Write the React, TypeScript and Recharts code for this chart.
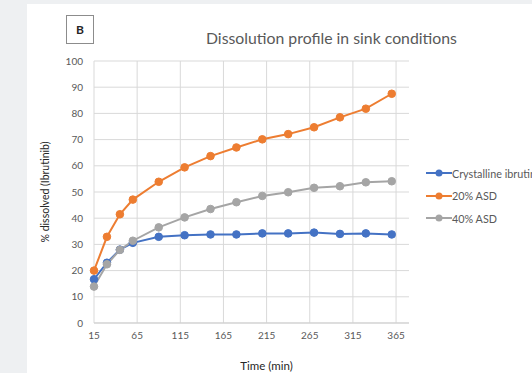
import React from "react";
import {
  LineChart,
  Line,
  XAxis,
  YAxis,
  CartesianGrid,
  Label,
} from "recharts";

// sampling times (min)
const times = [15, 30, 45, 60, 90, 120, 150, 180, 210, 240, 270, 300, 330, 360];

// % dissolved
const crystalline = [16.7, 23.0, 28.0, 30.6, 32.9, 33.5, 33.8, 33.8, 34.2, 34.2, 34.5, 34.0, 34.2, 33.8];
const asd20 = [20.0, 32.9, 41.5, 47.1, 53.9, 59.4, 63.7, 67.0, 70.1, 72.1, 74.7, 78.5, 81.8, 87.5];
const asd40 = [13.9, 22.4, 27.9, 31.4, 36.5, 40.3, 43.5, 46.1, 48.5, 49.9, 51.6, 52.2, 53.7, 54.1];

const xTicks = [15, 65, 115, 165, 215, 265, 315, 365];
const yTicks = [0, 10, 20, 30, 40, 50, 60, 70, 80, 90, 100];

const seriesInfo = [
  { key: "crystalline", name: "Crystalline ibrutinib", color: "#4472C4" },
  { key: "asd20", name: "20% ASD", color: "#ED7D31" },
  { key: "asd40", name: "40% ASD", color: "#A5A5A5" },
];

const data = times.map((t, i) => ({
  time: t,
  crystalline: crystalline[i],
  asd20: asd20[i],
  asd40: asd40[i],
}));

const FONT = "Lato, 'Open Sans', sans-serif";

// legend sits outside the chart so it doesn't eat plot space
function LegendBox() {
  return (
    <div
      style={{
        position: "absolute",
        left: 426,
        top: 167,
        fontFamily: FONT,
        fontSize: 10.8,
        color: "#595959",
      }}
    >
      {seriesInfo.map((s) => (
        <div
          key={s.key}
          style={{ display: "flex", alignItems: "center", height: 12, marginBottom: 10.5, whiteSpace: "nowrap" }}
        >
          <svg width={26} height={10} style={{ flex: "none" }}>
            <line x1={0} y1={5} x2={26} y2={5} stroke={s.color} strokeWidth={2} />
            <circle cx={13} cy={5} r={3.5} fill={s.color} />
          </svg>
          <span>{s.name}</span>
        </div>
      ))}
    </div>
  );
}

export default function App() {
  return (
    <div
      style={{
        position: "absolute",
        left: 0,
        top: 0,
        width: 532,
        height: 373,
        overflow: "hidden",
        background: "#eef0f2",
      }}
    >
      <div
        style={{
          position: "absolute",
          left: 27,
          top: 4,
          width: 505,
          height: 369,
          background: "#fff",
        }}
      />
      <div
        style={{
          position: "absolute",
          left: 66,
          top: 15,
          width: 26,
          height: 27,
          border: "1px solid #8c8c8c",
          fontFamily: FONT,
          fontWeight: 700,
          fontSize: 12,
          color: "#262626",
          display: "flex",
          alignItems: "center",
          justifyContent: "center",
        }}
      >
        B
      </div>
      <div
        style={{
          position: "absolute",
          left: 206,
          top: 28,
          fontFamily: FONT,
          fontSize: 15.8,
          color: "#595959",
          whiteSpace: "nowrap",
        }}
      >
        Dissolution profile in sink conditions
      </div>
      <div style={{ position: "absolute", left: 0, top: 0 }}>
        <LineChart
          width={532}
          height={373}
          data={data}
          margin={{ top: 61, right: 123, bottom: 0, left: 27 }}
        >
          <CartesianGrid stroke="#d9d9d9" strokeWidth={1} verticalValues={xTicks} horizontalValues={yTicks} />
          <XAxis
            dataKey="time"
            type="number"
            domain={[15, 380]}
            ticks={xTicks}
            interval={0}
            tickLine={false}
            tickSize={0}
            tickMargin={9}
            axisLine={{ stroke: "#cfcfcf" }}
            tick={{ fill: "#595959", fontSize: 10, fontFamily: FONT }}
            height={50}
          >
            <Label
              value="Time (min)"
              position="insideBottom"
              offset={3}
              dx={15}
              style={{ fill: "#262626", fontSize: 11.5, fontFamily: FONT }}
            />
          </XAxis>
          <YAxis
            type="number"
            domain={[0, 100]}
            ticks={yTicks}
            interval={0}
            width={67}
            tickLine={false}
            axisLine={false}
            tickSize={0}
            tickMargin={11}
            tick={{ fill: "#595959", fontSize: 10, fontFamily: FONT }}
          >
            <Label
              value="% dissolved (Ibrutinib)"
              angle={-90}
              position="insideLeft"
              offset={18}
              style={{ fill: "#262626", fontSize: 10.5, fontFamily: FONT, textAnchor: "middle" }}
            />
          </YAxis>
          {seriesInfo.map((s) => (
            <Line
              key={s.key}
              type="linear"
              dataKey={s.key}
              name={s.name}
              stroke={s.color}
              strokeWidth={2}
              dot={{ r: 3.8, fill: s.color, stroke: s.color, strokeWidth: 1 }}
              activeDot={false}
              isAnimationActive={false}
            />
          ))}
        </LineChart>
      </div>
      <LegendBox />
    </div>
  );
}
